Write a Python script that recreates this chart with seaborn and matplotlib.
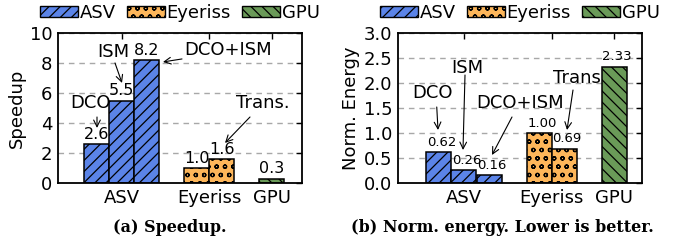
import pandas as pd
import matplotlib
matplotlib.use('Agg')
import matplotlib.pyplot as plt
from matplotlib.patches import Patch
import seaborn as sns

# Data
SYSTEMS = ['ASV', 'Eyeriss', 'GPU']
bar_system = ['ASV', 'ASV', 'ASV', 'Eyeriss', 'Eyeriss', 'GPU']
bar_pos = [1.5, 2.5, 3.5, 5.5, 6.5, 8.5]
group_ticks = [2.5, 6.0, 8.5]

speedup = [2.6, 5.5, 8.2, 1.0, 1.6, 0.3]
speedup_labels = ['2.6', '5.5', '8.2', '1.0', '1.6', '0.3']
energy = [0.62, 0.26, 0.16, 1.00, 0.69, 2.33]
energy_labels = ['0.62', '0.26', '0.16', '1.00', '0.69', '2.33']

# Styling
COLORS = {'ASV': '#5b84e8', 'Eyeriss': '#fdb65a', 'GPU': '#6a9a58'}
HATCHES = {'ASV': '///', 'Eyeriss': 'oo', 'GPU': '\\\\\\'}
FS = 13

sns.set_theme(style='white')
plt.rcParams['font.family'] = ['DejaVu Sans']
plt.rcParams['text.color'] = 'black'
plt.rcParams['axes.labelcolor'] = 'black'
plt.rcParams['hatch.linewidth'] = 0.9


def draw_panel(ax, values, labels, ylim, yticks, ylabel, xlim, val_size, val_dx, notes):
    df = pd.DataFrame({'pos': bar_pos, 'value': values, 'system': bar_system})
    ax.set_axisbelow(True)
    ax.yaxis.grid(True, color='#a8a8a8', linestyle=(0, (4, 3.5)), linewidth=1.0)
    sns.barplot(data=df, x='pos', y='value', hue='system', hue_order=SYSTEMS,
                palette=COLORS, native_scale=True, dodge=False, width=1.0,
                edgecolor='black', linewidth=1.1, saturation=1, errorbar=None,
                legend=False, ax=ax, zorder=2)

    # hatch each bar by its system
    for p in ax.patches:
        cx = p.get_x() + p.get_width() / 2
        for pos, sys_name in zip(bar_pos, bar_system):
            if abs(pos - cx) < 0.1:
                p.set_hatch(HATCHES[sys_name])

    # value labels
    for pos, v, lab in zip(bar_pos, values, labels):
        ax.annotate(lab, (pos, v), xytext=(val_dx, 7), textcoords='offset points',
                    ha='center', va='center', fontsize=val_size, zorder=4)

    # arrow notes
    for txt, tpos, tail, tip in notes:
        ax.text(tpos[0], tpos[1], txt, ha='center', va='center', fontsize=FS, zorder=4)
        ax.annotate('', xy=tip, xytext=tail,
                    arrowprops=dict(arrowstyle='->', color='black', lw=0.8,
                                    shrinkA=0, shrinkB=0), zorder=4)

    ax.set_xlim(*xlim)
    ax.set_ylim(*ylim)
    ax.set_yticks(yticks)
    ax.set_xticks(group_ticks)
    ax.set_xticklabels(SYSTEMS)
    ax.set_xlabel('')
    ax.set_ylabel(ylabel, fontsize=FS, labelpad=3)
    ax.tick_params(direction='in', top=True, right=True, labelsize=FS,
                   length=4, width=1, pad=4, colors='black')
    for s in ax.spines.values():
        s.set_visible(True)
        s.set_color('black')
        s.set_linewidth(1.3)

    handles = [Patch(facecolor=COLORS[s], edgecolor='black', hatch=HATCHES[s], label=s)
               for s in SYSTEMS]
    ax.legend(handles=handles, loc='center', bbox_to_anchor=(0.5, 1.135), ncol=3,
              frameon=False, fontsize=FS, handlelength=2.1, handleheight=0.6,
              handletextpad=0.1, columnspacing=0.6, borderaxespad=0, borderpad=0)


fig = plt.figure(figsize=(6.78, 2.40), dpi=100)
ax1 = fig.add_axes([58 / 678, 57 / 240, 244 / 678, 150 / 240])
ax2 = fig.add_axes([398 / 678, 57 / 240, 244 / 678, 150 / 240])

notes_a = [
    ('DCO', (1.27, 5.33), (1.51, 4.4), (1.51, 3.67)),
    ('ISM', (2.15, 8.73), (2.23, 8.0), (2.51, 6.67)),
    ('DCO+ISM', (6.75, 8.87), (4.91, 8.27), (4.15, 8.07)),
    ('Trans.', (8.15, 5.33), (7.63, 4.4), (6.63, 2.67)),
]
notes_b = [
    ('DCO', (1.26, 1.8), (1.41, 1.52), (1.46, 1.06)),
    ('ISM', (2.62, 2.3), (2.54, 2.16), (2.46, 0.66)),
    ('DCO+ISM', (4.74, 1.6), (4.42, 1.32), (3.62, 0.56)),
    ('Trans', (7.02, 2.1), (6.86, 1.86), (6.62, 1.06)),
]

draw_panel(ax1, speedup, speedup_labels, (0, 10), [0, 2, 4, 6, 8, 10], 'Speedup',
           (-0.05, 9.71), 11.5, 0, notes_a)
draw_panel(ax2, energy, energy_labels, (0, 3), [0.0, 0.5, 1.0, 1.5, 2.0, 2.5, 3.0],
           'Norm. Energy', (-0.14, 9.62), 9.5, 2, notes_b)
ax2.set_yticklabels(['0.0', '0.5', '1.0', '1.5', '2.0', '2.5', '3.0'])

fig.text(170 / 678, 1 - 228 / 240, '(a) Speedup.', ha='center', va='center',
         family='DejaVu Serif', fontweight='bold', fontsize=11.5)
fig.text(502 / 678, 1 - 228 / 240, '(b) Norm. energy. Lower is better.', ha='center',
         va='center', family='DejaVu Serif', fontweight='bold', fontsize=11.5)

fig.savefig('out.png', dpi=100)
